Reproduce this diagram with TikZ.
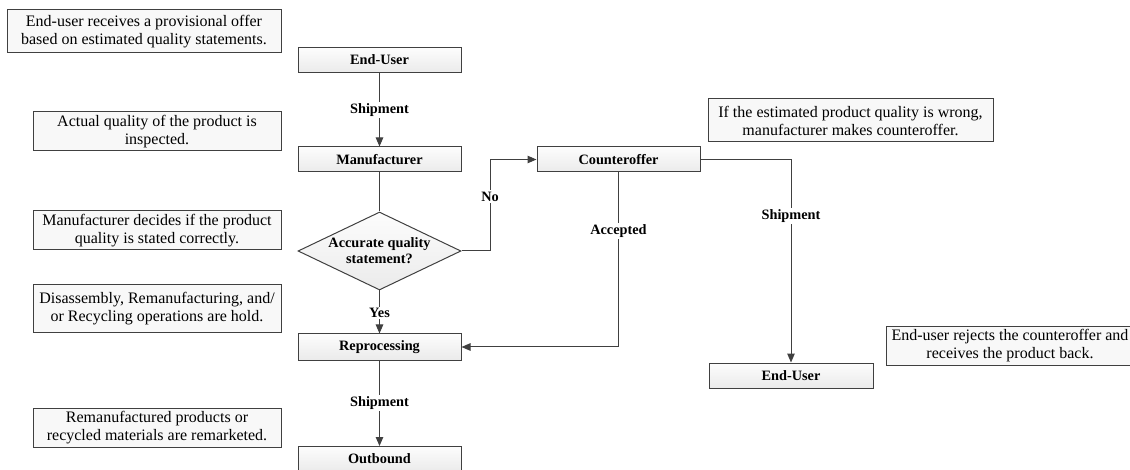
\documentclass[tikz,border=0pt]{standalone}
\usepackage{fontspec}
\setmainfont{Liberation Serif}
\usetikzlibrary{shapes.geometric,arrows.meta}

\definecolor{edge}{HTML}{404040}
\definecolor{notefill}{HTML}{F8F8F8}

\tikzset{
  stage/.style={draw=edge, line width=1pt, top color=gray!2, bottom color=gray!16,
    minimum width=163pt, minimum height=25pt, inner sep=0pt,
    font=\fontsize{14.3}{16}\selectfont\bfseries},
  decision/.style={diamond, draw=edge, line width=1pt, top color=gray!2, bottom color=gray!16,
    minimum width=163pt, minimum height=78pt, inner sep=0pt},
  note/.style={draw=edge, line width=1pt, fill=notefill, inner sep=0pt, align=center,
    font=\fontsize{16}{18}\selectfont},
  tag/.style={fill=white, inner sep=1.5pt, align=center,
    font=\fontsize{14.3}{16}\selectfont\bfseries},
  flow/.style={draw=edge, line width=1pt},
  arrowflow/.style={flow, -{Triangle[length=9pt,width=7.5pt]}}
}

\begin{document}
\begin{tikzpicture}[x=1pt,y=-1pt]
\useasboundingbox (0,0) rectangle (1130,470);

% notes
\node[note, minimum width=274pt, minimum height=43pt] (n1) at (144,31.5)
  {End-user receives a provisional offer\\based on estimated quality statements.};
\node[note, minimum width=248pt, minimum height=39pt] (n2) at (157,131.5)
  {Actual quality of the product is\\inspected.};
\node[note, minimum width=248pt, minimum height=39pt] (n3) at (157,230.5)
  {Manufacturer decides if the product\\quality is stated correctly.};
\node[note, minimum width=248pt, minimum height=48pt] (n4) at (157,309)
  {Disassembly, Remanufacturing, and/\\or Recycling operations are hold.};
\node[note, minimum width=248pt, minimum height=39pt] (n5) at (157,427.5)
  {Remanufactured products or\\recycled materials are remarketed.};
\node[note, minimum width=285pt, minimum height=43pt] (n6) at (850.5,120.5)
  {If the estimated product quality is wrong,\\manufacturer makes counteroffer.};
\node[note, minimum width=248pt, minimum height=38pt] (n7) at (1010,346)
  {End-user rejects the counteroffer and\\receives the product back.};

% process stages
\node[stage] (eu1) at (379.5,60) {End-User};
\node[stage] (mf) at (379.5,159.5) {Manufacturer};
\node[decision] (dec) at (379.5,251) {};
\node[tag, fill=none] (dect) at (dec.center) {Accurate quality\\statement?};
\node[stage, minimum height=26pt] (rp) at (379.5,347) {Reprocessing};
\node[stage] (ob) at (379.5,459) {Outbound};
\node[stage] (co) at (618.5,159.5) {Counteroffer};
\node[stage, minimum width=164pt] (eu2) at (791,375.5) {End-User};

% connectors
\draw[arrowflow] (eu1.south) -- (mf.north);
\node[tag] (s1) at (379.5,110) {Shipment};

\draw[flow] (mf.south) -- (dec.north);

\draw[arrowflow] (dec.south) -- (rp.north);
\node[tag] (yes) at (379.5,313) {Yes};

\draw[arrowflow] (rp.south) -- (ob.north);
\node[tag] (s2) at (379.5,403) {Shipment};

\coordinate (njog) at (490,251);
\draw[arrowflow] (dec.east) -- (njog) |- (co.west);
\node[tag] (no) at (490,196.5) {No};

\draw[arrowflow] (co.south) |- (rp.east);
\node[tag] (acc) at (618.5,231) {Accepted};

\draw[arrowflow] (co.east) -| (eu2.north);
\node[tag] (s3) at (791,216) {Shipment};
\end{tikzpicture}
\end{document}
